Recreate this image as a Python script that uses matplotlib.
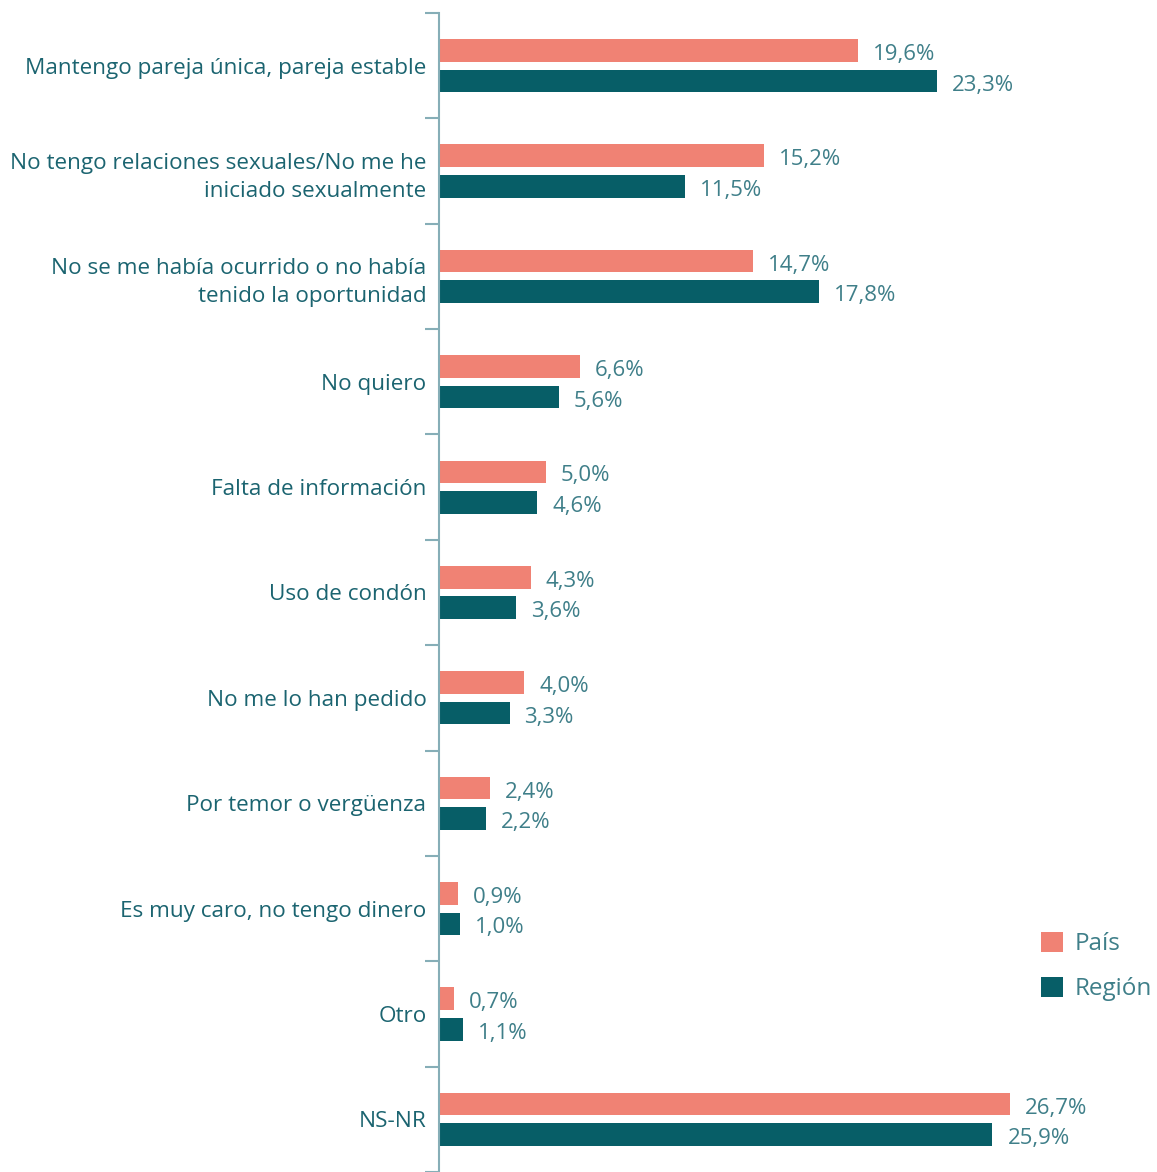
import matplotlib.pyplot as plt
import numpy as np

categorias = [
    'Mantengo pareja única, pareja estable',
    'No tengo relaciones sexuales/No me he\niniciado sexualmente',
    'No se me había ocurrido o no había\ntenido la oportunidad',
    'No quiero',
    'Falta de información',
    'Uso de condón',
    'No me lo han pedido',
    'Por temor o vergüenza',
    'Es muy caro, no tengo dinero',
    'Otro',
    'NS-NR',
]
pais = [19.6, 15.2, 14.7, 6.6, 5.0, 4.3, 4.0, 2.4, 0.9, 0.7, 26.7]
region = [23.3, 11.5, 17.8, 5.6, 4.6, 3.6, 3.3, 2.2, 1.0, 1.1, 25.9]

c_pais = '#f08274'
c_region = '#075e67'
c_label = '#1b6470'
c_valor = '#3f7f89'
c_eje = '#86aeb7'

plt.rcParams['font.family'] = ['Open Sans', 'DejaVu Sans']

fig = plt.figure(figsize=(11.57, 11.72), dpi=100)
ax = fig.add_axes([439 / 1157, 0, 1 - 439 / 1157, 1 - 13 / 1172])

y = np.arange(len(categorias))
h = 0.215
off = 0.145
ax.barh(y - off, pais, height=h, color=c_pais, label='País')
ax.barh(y + off, region, height=h, color=c_region, label='Región')

for i in range(len(categorias)):
    ax.text(pais[i] + 0.7, y[i] - off + 0.015, f'{pais[i]:.1f}%'.replace('.', ','),
            va='center_baseline', ha='left', fontsize=16, color=c_valor)
    ax.text(region[i] + 0.7, y[i] + off + 0.015, f'{region[i]:.1f}%'.replace('.', ','),
            va='center_baseline', ha='left', fontsize=16, color=c_valor)

ax.set_xlim(0, 33.6)
ax.set_ylim(len(categorias) - 0.5, -0.5)
ax.set_xticks([])

ax.set_yticks(np.arange(-0.5, len(categorias)), labels=[])
ax.set_yticks(y, labels=categorias, minor=True)
ax.tick_params(axis='y', which='major', length=10, width=1.5, color=c_eje, direction='out')
ax.tick_params(axis='y', which='minor', length=0, pad=9, labelsize=16.2, labelcolor=c_label)
for lab in ax.get_yticklabels(minor=True):
    lab.set_multialignment('right')
    lab.set_linespacing(1.45)

for s in ['top', 'right', 'bottom']:
    ax.spines[s].set_visible(False)
ax.spines['left'].set_color(c_eje)
ax.spines['left'].set_linewidth(1.5)

leg = ax.legend(loc='upper left', bbox_to_anchor=(1019 / 1157, 1 - 910 / 1172),
                bbox_transform=fig.transFigure, frameon=False,
                fontsize=17.5, handlelength=0.9, handleheight=0.9,
                handletextpad=0.5, labelspacing=0.85)
for t in leg.get_texts():
    t.set_color(c_valor)

fig.savefig('out.png', dpi=100)
